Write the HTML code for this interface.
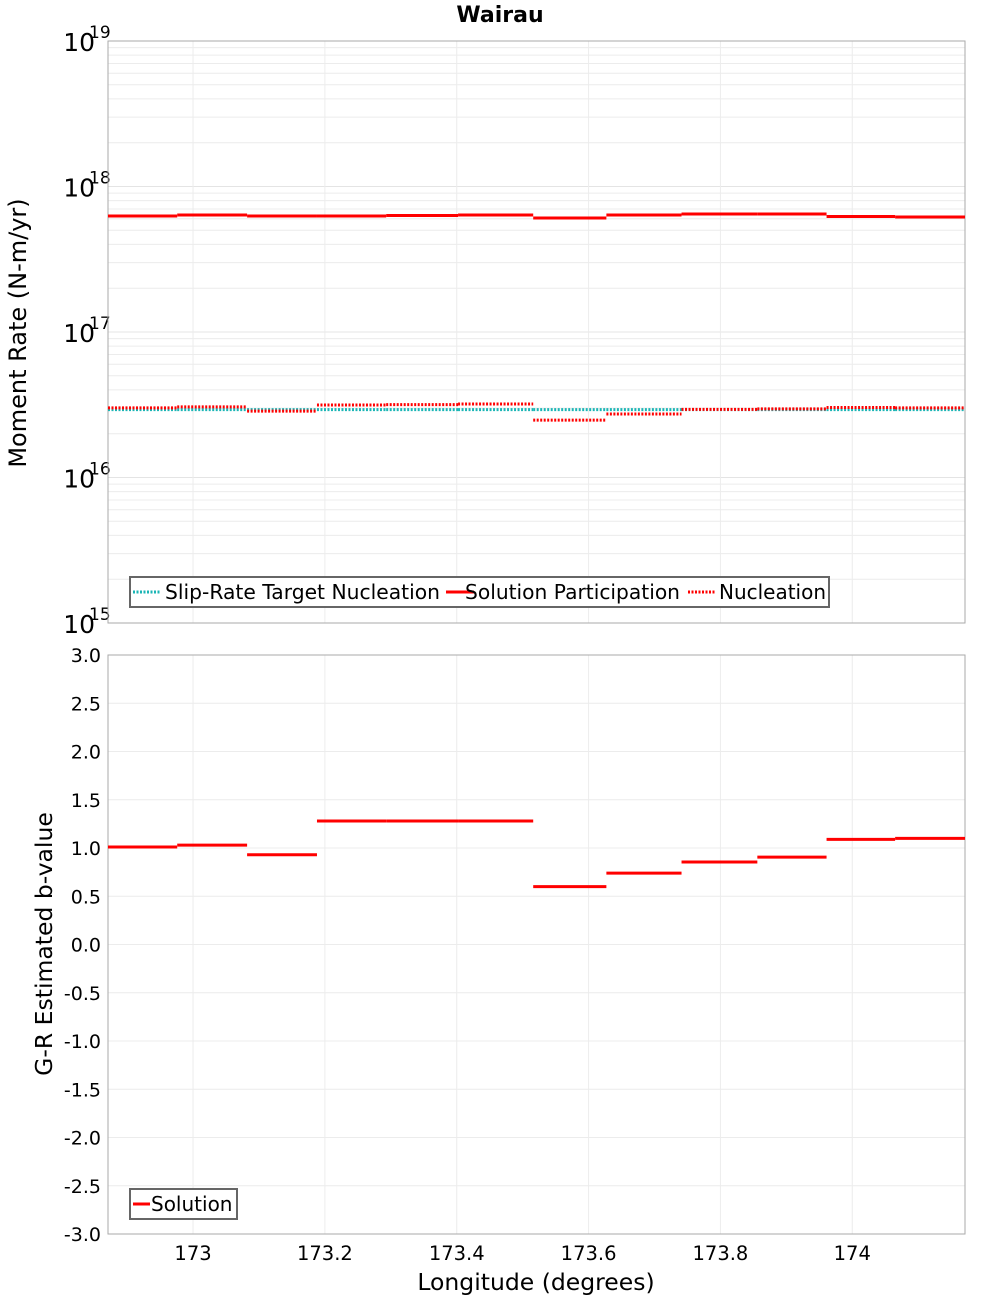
<!DOCTYPE html>
<html><head><meta charset="utf-8"><style>
body{margin:0;background:#fff;font-family:"DejaVu Sans","Liberation Sans",sans-serif}
</style></head><body>
<svg id="c" width="1000" height="1300" xmlns="http://www.w3.org/2000/svg" font-family="DejaVu Sans, Liberation Sans, sans-serif"></svg>
<script>
const lonEdges=[172.871,172.976,173.082,173.188,173.293,173.402,173.516,173.627,173.741,173.856,173.961,174.065,174.171];
const participation=[6.27e17,6.37e17,6.27e17,6.27e17,6.32e17,6.37e17,6.07e17,6.37e17,6.47e17,6.47e17,6.22e17,6.17e17];
const nucleation=[3.01e16,3.06e16,2.86e16,3.15e16,3.17e16,3.20e16,2.48e16,2.73e16,2.94e16,2.96e16,3.03e16,3.01e16];
const target=[2.93e16,2.93e16,2.93e16,2.93e16,2.93e16,2.93e16,2.93e16,2.93e16,2.93e16,2.93e16,2.93e16,2.93e16];
const bValues=[1.01,1.03,0.93,1.28,1.28,1.28,0.60,0.74,0.855,0.905,1.09,1.10];
const xTicks=[173,173.2,173.4,173.6,173.8,174];
const xTickLabels=["173","173.2","173.4","173.6","173.8","174"];
const logTicks=[15,16,17,18,19];
const bTicks=[-3,-2.5,-2,-1.5,-1,-0.5,0,0.5,1,1.5,2,2.5,3];

const svg=document.getElementById('c');const NS='http://www.w3.org/2000/svg';
function el(t,a,txt){const e=document.createElementNS(NS,t);for(const k in a)e.setAttribute(k,a[k]);if(txt!==undefined)e.textContent=txt;svg.appendChild(e);return e;}
const L=108,R=965,T1=41,B1=623,T2=655,B2=1234;
const X=v=>L+(v-172.871)/(174.171-172.871)*(R-L);
const Y1=v=>B1-(Math.log10(v)-15)/4*(B1-T1);
const Y2=v=>B2-(v+3)/6*(B2-T2);

for(let d=15;d<19;d++)for(let m=2;m<=9;m++){const y=Y1(m*Math.pow(10,d));const g=el('line',{x1:L,x2:R,y1:y,y2:y,stroke:'#ececec'});}
logTicks.forEach(d=>{const y=Y1(Math.pow(10,d));const g=el('line',{x1:L,x2:R,y1:y,y2:y,stroke:'#e4e4e4'});
const t=el('text',{x:95,y:y+10,'font-size':25,'text-anchor':'end'},'10');
const s=el('text',{x:89,y:y-3,'font-size':17},String(d));});
bTicks.forEach(v=>{const y=Y2(v);const g=el('line',{x1:L,x2:R,y1:y,y2:y,stroke:'#ececec'});
const t=el('text',{x:101,y:y+7,'font-size':19,'text-anchor':'end'},v.toFixed(1));});
xTicks.forEach((v,i)=>{const x=X(v);[[T1,B1],[T2,B2]].forEach(([a,b])=>{const g=el('line',{x1:x,x2:x,y1:a,y2:b,stroke:'#ececec'});});
const t=el('text',{x:x,y:1260,'font-size':19.5,'text-anchor':'middle'},xTickLabels[i]);});
[[T1,B1],[T2,B2]].forEach(([a,b])=>{const r=el('rect',{x:L,y:a,width:R-L,height:b-a,fill:'none',stroke:'#aaa'});});

function steps(arr,Y,col,dash,name){for(let i=0;i<arr.length;i++){const a={x1:X(lonEdges[i]),x2:X(lonEdges[i+1]),y1:Y(arr[i]),y2:Y(arr[i]),stroke:col,'stroke-width':3};if(dash)a['stroke-dasharray']='2,1.5';const l=el('line',a);}}
steps(target,Y1,'#1ab5b5',true,'target-segment');
steps(participation,Y1,'#ff0000',false,'participation-segment');
steps(nucleation,Y1,'#ff0000',true,'nucleation-segment');
steps(bValues,Y2,'#ff0000',false,'b-value-segment');

let r=el('rect',{x:130,y:577,width:699,height:30,fill:'#fff',stroke:'#666','stroke-width':2});
[[133,'#1ab5b5',true,'Slip-Rate Target Nucleation',165,275],[446,'#ff0000',false,'Solution Participation',465,215],[688,'#ff0000',true,'Nucleation',719,107]].forEach(([x,c,d,txt,tx,w])=>{const a={x1:x,x2:x+28,y1:592,y2:592,stroke:c,'stroke-width':3};if(d)a['stroke-dasharray']='2,1.5';const l=el('line',a);
const t=el('text',{x:tx,y:599,'font-size':20,textLength:w,lengthAdjust:'spacingAndGlyphs'},txt);});
r=el('rect',{x:130,y:1189,width:107,height:30,fill:'#fff',stroke:'#666','stroke-width':2});
let l=el('line',{x1:133,x2:150,y1:1204,y2:1204,stroke:'#ff0000','stroke-width':3});
let t=el('text',{x:151,y:1211,'font-size':20},'Solution');

t=el('text',{x:500,y:22,'font-size':22,'font-weight':'bold','text-anchor':'middle'},'Wairau');
t=el('text',{x:536,y:1290,'font-size':23.5,'text-anchor':'middle'},'Longitude (degrees)');
t=el('text',{x:0,y:0,'font-size':24,'text-anchor':'middle',transform:'translate(26,333) rotate(-90)'},'Moment Rate (N-m/yr)');
t=el('text',{x:0,y:0,'font-size':23.5,'text-anchor':'middle',transform:'translate(52,944) rotate(-90)'},'G-R Estimated b-value');
</script>
</body></html>
